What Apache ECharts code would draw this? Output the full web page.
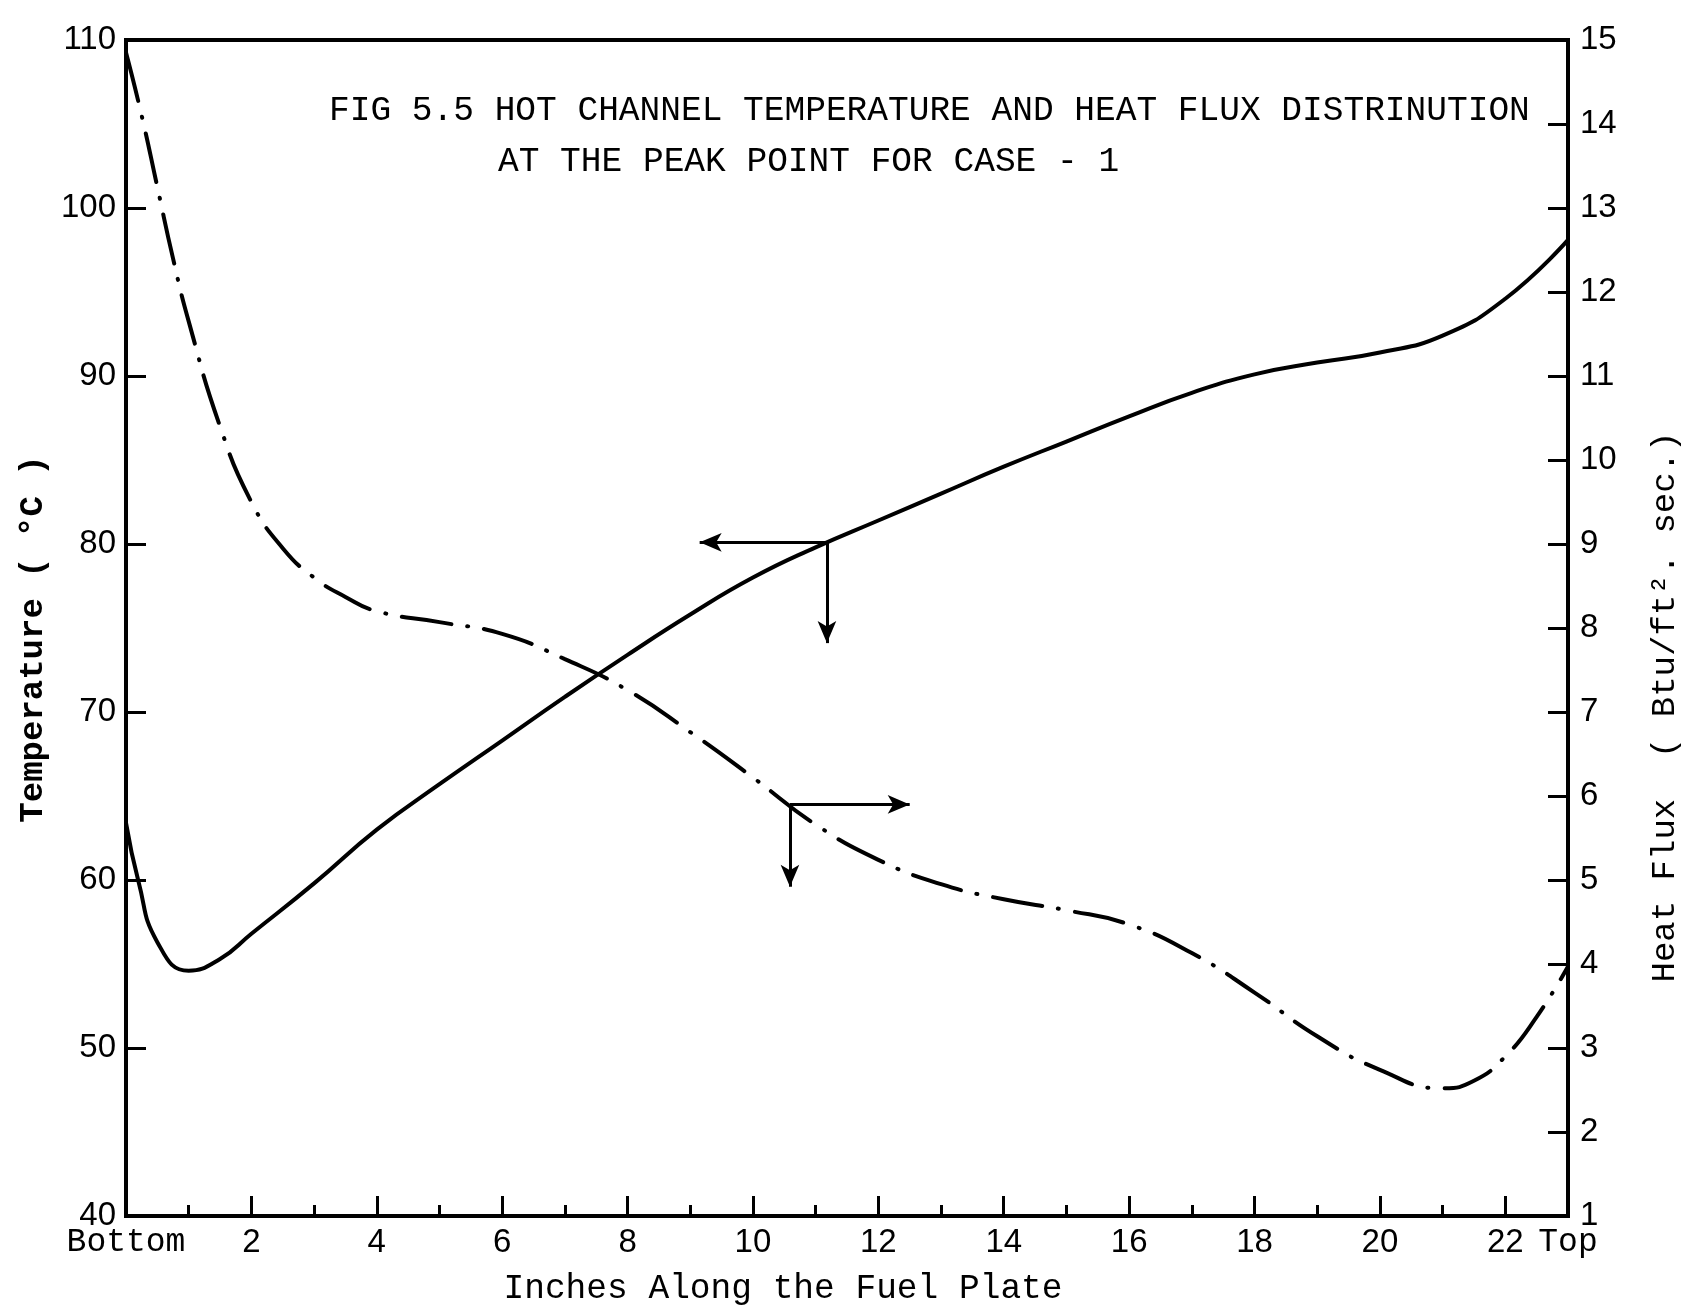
<!DOCTYPE html>
<html>
<head>
<meta charset="utf-8">
<script src="https://cdn.jsdelivr.net/npm/echarts@6/dist/echarts.min.js"></script>
<style>
  html, body { margin: 0; background: #fff; }
  #chart { width: 1689px; height: 1312px; }
</style>
</head>
<body>
<div id="chart"></div>
<script>
// inches along the plate, 0 = Bottom, 23 = Top
var xTickValues = [0, 2, 4, 6, 8, 10, 12, 14, 16, 18, 20, 22, 23];
var xTickLabels = ['Bottom', '2', '4', '6', '8', '10', '12', '14', '16', '18', '20', '22', 'Top'];

// hot channel temperature (deg C, left axis)
var tempInches = [0, 0.2, 0.5, 1, 1.5, 2, 3, 4, 5, 6, 7, 8, 9, 10, 11, 12, 13, 14, 15, 16, 17, 18, 19, 20, 21, 22, 23];
var tempC = [63.4, 59.9, 56.3, 54.6, 55.3, 56.8, 59.8, 63.0, 65.7, 68.3, 70.9, 73.4, 75.8, 78.0, 79.8, 81.4, 83.0, 84.6, 86.1, 87.6, 89.0, 90.1, 90.8, 91.4, 92.4, 94.6, 98.1];

// heat flux (Btu/ft2 sec, right axis)
var fluxInches = [0, 0.25, 0.5, 0.75, 1, 1.5, 2, 2.5, 3, 3.5, 4, 5, 6, 7, 8, 9, 10, 11, 12, 13, 14, 15, 16, 17, 18, 19, 20, 21, 21.5, 22, 22.5, 23];
var fluxQ = [14.85, 14.1, 13.25, 12.4, 11.65, 10.4, 9.5, 8.95, 8.6, 8.37, 8.2, 8.07, 7.93, 7.63, 7.26, 6.76, 6.22, 5.66, 5.24, 4.95, 4.77, 4.64, 4.47, 4.13, 3.66, 3.14, 2.74, 2.52, 2.61, 2.9, 3.37, 3.97];

// the little arrows telling which axis each curve belongs to
var tempArrowFrom = [11.18, 80.1];
var tempArrowTo = [[9.15, 80.1], [11.18, 74.1]];
var fluxArrowFrom = [10.59, 5.9];
var fluxArrowTo = [[12.5, 5.9], [10.59, 4.92]];

var titleLines = [
  'FIG 5.5 HOT CHANNEL TEMPERATURE AND HEAT FLUX DISTRINUTION',
  'AT THE PEAK POINT FOR CASE - 1'
];

var mono = 'Liberation Mono';
var sans = 'Liberation Sans';

function pairs(xs, ys) {
  return xs.map(function (x, i) { return [x, ys[i]]; });
}

function arrows(from, to) {
  return to.map(function (t) { return [{ coord: from }, { coord: t }]; });
}

var myChart = echarts.init(document.getElementById('chart'));

var gridPos = { left: 126, right: 121, top: 40, bottom: 96, outerBoundsMode: 'none' };

myChart.setOption({
  animation: false,
  backgroundColor: '#fff',
  title: [
    { text: titleLines[0], left: 329, top: 93, padding: 0,
      textStyle: { fontFamily: mono, fontSize: 34.5, fontWeight: 'normal', color: '#000' } },
    { text: titleLines[1], left: 498, top: 144, padding: 0,
      textStyle: { fontFamily: mono, fontSize: 34.5, fontWeight: 'normal', color: '#000' } }
  ],
  grid: [
    Object.assign({ show: true, borderColor: '#000', borderWidth: 4 }, gridPos),
    Object.assign({}, gridPos)
  ],
  xAxis: [
    {
      type: 'value', gridIndex: 0, min: 0, max: 23, interval: 1,
      name: 'Inches Along the Fuel Plate',
      nameLocation: 'middle', nameGap: 55,
      nameTextStyle: { fontFamily: mono, fontSize: 34.5, color: '#000', padding: [0, 128, 0, 0] },
      axisLine: { lineStyle: { color: '#000', width: 4 } },
      axisTick: { inside: true, length: 11, lineStyle: { color: '#000', width: 3 } },
      axisLabel: {
        margin: 10, fontFamily: sans, fontSize: 33, color: '#000',
        formatter: function (v) {
          var i = xTickValues.indexOf(v);
          if (i < 0) return '';
          var s = xTickLabels[i];
          return isNaN(+s) ? '{m|' + s + '}' : s;
        },
        rich: { m: { fontFamily: mono, fontSize: 33, color: '#000' } }
      },
      splitLine: { show: false }
    },
    {
      // longer ticks at the even inches
      type: 'value', gridIndex: 1, min: 0, max: 23, interval: 2,
      axisLine: { show: false },
      axisTick: { inside: true, length: 20, lineStyle: { color: '#000', width: 3 } },
      axisLabel: { show: false },
      splitLine: { show: false }
    }
  ],
  yAxis: [
    {
      type: 'value', gridIndex: 0, position: 'left', min: 40, max: 110, interval: 10,
      name: 'Temperature ( °C )',
      nameLocation: 'middle', nameGap: 75,
      nameTextStyle: { fontFamily: mono, fontSize: 34, fontWeight: 'bold', color: '#000', padding: [0, 22, 0, 0] },
      axisLine: { show: true, lineStyle: { color: '#000', width: 4 } },
      axisTick: { show: true, inside: true, length: 20, lineStyle: { color: '#000', width: 3 } },
      axisLabel: { margin: 10, fontFamily: sans, fontSize: 33, color: '#000' },
      splitLine: { show: false }
    },
    {
      type: 'value', gridIndex: 0, position: 'right', min: 1, max: 15, interval: 1,
      name: 'Heat Flux  ( Btu/ft². sec.)',
      nameLocation: 'middle', nameGap: 80,
      nameTextStyle: { fontFamily: mono, fontSize: 34, color: '#000', padding: [0, 158, 0, 0] },
      axisLine: { show: true, lineStyle: { color: '#000', width: 4 } },
      axisTick: { show: true, inside: true, length: 20, lineStyle: { color: '#000', width: 3 } },
      axisLabel: { margin: 12, fontFamily: sans, fontSize: 33, color: '#000' },
      splitLine: { show: false }
    },
    {
      type: 'value', gridIndex: 1, min: 0, max: 1, show: false
    }
  ],
  series: [
    {
      name: 'Temperature',
      type: 'line', xAxisIndex: 0, yAxisIndex: 0,
      data: pairs(tempInches, tempC),
      smooth: 0.5, showSymbol: false,
      lineStyle: { color: '#000', width: 4 },
      markLine: {
        silent: true, symbol: ['none', 'arrow'], symbolSize: [14, 22],
        label: { show: false },
        lineStyle: { color: '#000', width: 3, type: 'solid' },
        data: arrows(tempArrowFrom, tempArrowTo)
      }
    },
    {
      name: 'Heat Flux',
      type: 'line', xAxisIndex: 0, yAxisIndex: 1,
      data: pairs(fluxInches, fluxQ),
      smooth: 0.5, showSymbol: false,
      lineStyle: { color: '#000', width: 4, type: [50, 16, 1, 16], cap: 'round' },
      markLine: {
        silent: true, symbol: ['none', 'arrow'], symbolSize: [14, 22],
        label: { show: false },
        lineStyle: { color: '#000', width: 3, type: 'solid' },
        data: arrows(fluxArrowFrom, fluxArrowTo)
      }
    }
  ]
});
</script>
</body>
</html>
